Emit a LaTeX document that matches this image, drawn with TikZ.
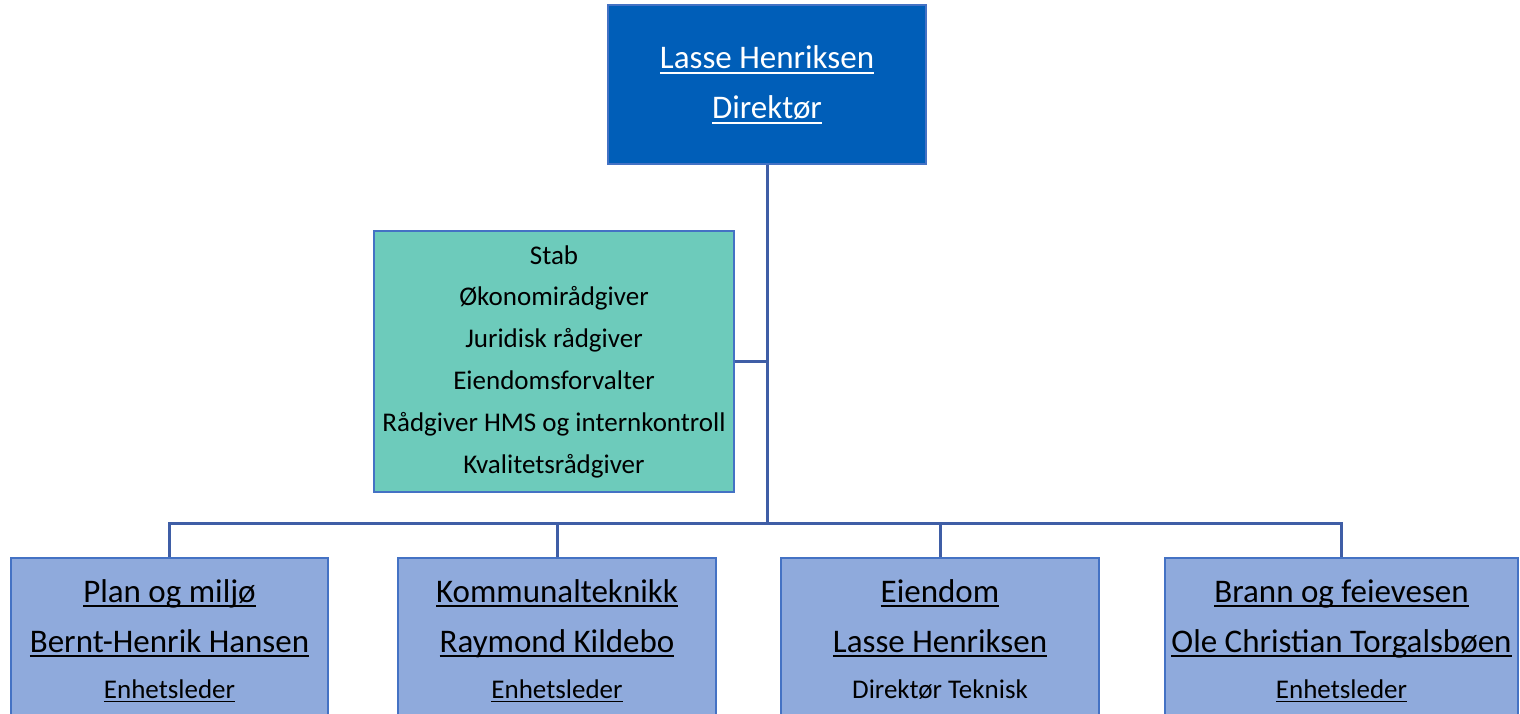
\documentclass[tikz,border=0pt]{standalone}
\usepackage{fontspec}
\setmainfont{Carlito}
\usetikzlibrary{positioning}
\definecolor{dirblue}{RGB}{0,94,184}
\definecolor{stabgreen}{RGB}{109,203,187}
\definecolor{unitblue}{RGB}{143,170,220}
\definecolor{boxline}{RGB}{68,114,196}
\definecolor{linkline}{RGB}{63,94,166}
\newcommand{\ulin}[1]{{\setbox0\hbox{#1}\rlap{\rule[-0.15em]{\wd0}{0.05em}}\box0}}

\begin{document}
\begin{tikzpicture}[x=1pt,y=-1pt,
  box/.style={draw=boxline,line width=2pt,inner sep=0pt,anchor=north,align=center},
  unit/.style={box,fill=unitblue,minimum width=#1,text height=140pt,text depth=100pt,font=\fontsize{33}{50}\selectfont},
  link/.style={draw=linkline,line width=3pt}]
\useasboundingbox (0,0) rectangle (1520,714);
\node[box,fill=dirblue,minimum width=318pt,text height=114pt,text depth=45pt,text=white,font=\fontsize{33}{50}\selectfont] (dir) at (767,4) {\ulin{Lasse Henriksen}\\\ulin{Direktør}};
\node[box,fill=stabgreen,minimum width=360pt,text height=242pt,text depth=19pt,font=\fontsize{27}{41.8}\selectfont] (stab) at (554,230) {Stab\\Økonomirådgiver\\Juridisk rådgiver\\Eiendomsforvalter\\Rådgiver HMS og internkontroll\\Kvalitetsrådgiver};
% enheter
\node[unit=317pt] (u1) at (169.5,557) {\ulin{Plan og miljø}\\\ulin{Bernt-Henrik Hansen}\\[-4pt]{\fontsize{27}{30}\selectfont\ulin{Enhetsleder}}};
\node[unit=318pt] (u2) at (557,557) {\ulin{Kommunalteknikk}\\\ulin{Raymond Kildebo}\\[-4pt]{\fontsize{27}{30}\selectfont\ulin{Enhetsleder}}};
\node[unit=318pt] (u3) at (940,557) {\ulin{Eiendom}\\\ulin{Lasse Henriksen}\\[-4pt]{\fontsize{27}{30}\selectfont Direktør Teknisk}};
\node[unit=353pt] (u4) at (1341.5,557) {\ulin{Brann og feievesen}\\\ulin{Ole Christian Torgalsbøen}\\[-4pt]{\fontsize{27}{30}\selectfont\ulin{Enhetsleder}}};
\coordinate (bus) at (767,523);
\draw[link] (dir.south) -- (bus);
\draw[link] (stab.east) -- (stab.east -| bus);
\draw[link] (u1.north) |- (bus) -| (u4.north);
\draw[link] (u2.north) -- (u2.north |- bus);
\draw[link] (u3.north) -- (u3.north |- bus);
\end{tikzpicture}
\end{document}
